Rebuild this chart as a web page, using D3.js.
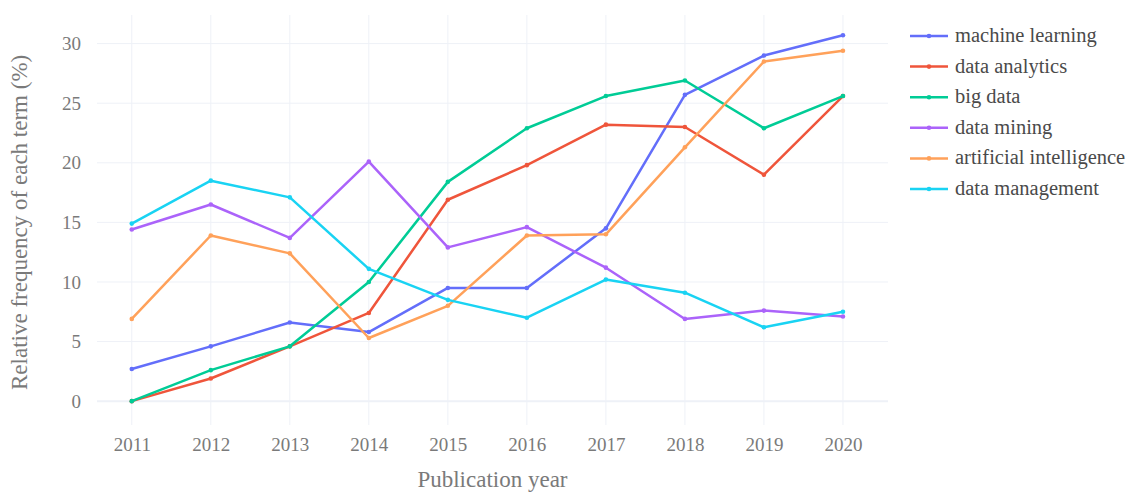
<!DOCTYPE html>
<html>
<head>
<meta charset="utf-8">
<script src="https://cdn.jsdelivr.net/npm/d3@7"></script>
<style>
  body { margin: 0; background: #fff; }
</style>
</head>
<body>
<div id="chart-area"></div>
<script>
const years = [2011, 2012, 2013, 2014, 2015, 2016, 2017, 2018, 2019, 2020];
const terms = ["machine learning", "data analytics", "big data", "data mining", "artificial intelligence", "data management"];
const machineLearning = [2.7, 4.6, 6.6, 5.8, 9.5, 9.5, 14.5, 25.7, 29.0, 30.7];
const dataAnalytics = [0, 1.9, 4.6, 7.4, 16.9, 19.8, 23.2, 23.0, 19.0, 25.6];
const bigData = [0, 2.6, 4.6, 10.0, 18.4, 22.9, 25.6, 26.9, 22.9, 25.6];
const dataMining = [14.4, 16.5, 13.7, 20.1, 12.9, 14.6, 11.2, 6.9, 7.6, 7.1];
const artificialIntelligence = [6.9, 13.9, 12.4, 5.3, 8.0, 13.9, 14.0, 21.3, 28.5, 29.4];
const dataManagement = [14.9, 18.5, 17.1, 11.1, 8.5, 7.0, 10.2, 9.1, 6.2, 7.5];
const yTicks = [0, 5, 10, 15, 20, 25, 30];
const colors = ["#636efa", "#EF553B", "#00cc96", "#ab63fa", "#FFA15A", "#19d3f3"];

const seriesValues = [machineLearning, dataAnalytics, bigData, dataMining, artificialIntelligence, dataManagement];
const series = terms.map((t, i) => ({
  term: t,
  color: colors[i],
  points: years.map((yr, j) => ({ year: yr, value: seriesValues[i][j] }))
}));

const W = 1134, H = 496;
const margin = { top: 15, right: 246, bottom: 71, left: 97 };
const width = W - margin.left - margin.right;
const height = H - margin.top - margin.bottom;
const serif = "'Liberation Serif'";

const svg = d3.select("#chart-area")
  .append("svg")
  .attr("width", W)
  .attr("height", H);

const g = svg.append("g")
  .attr("transform", `translate(${margin.left}, ${margin.top})`);

const x = d3.scaleLinear()
  .domain([2010.56, 2020.57])
  .range([0, width]);

const y = d3.scaleLinear()
  .domain([-2.0, 32.4])
  .range([height, 0]);

// grid
g.append("g")
  .selectAll("line")
  .data(years)
  .join("line")
  .attr("x1", d => x(d)).attr("x2", d => x(d))
  .attr("y1", 0).attr("y2", height)
  .attr("stroke", "#eef1f7").attr("stroke-width", 1);

g.append("g")
  .selectAll("line")
  .data(yTicks)
  .join("line")
  .attr("x1", 0).attr("x2", width)
  .attr("y1", d => y(d)).attr("y2", d => y(d))
  .attr("stroke", "#eef1f7")
  .attr("stroke-width", d => d === 0 ? 2 : 1);

// axes (labels only)
const xAxis = g.append("g")
  .attr("transform", `translate(0, ${height})`)
  .call(d3.axisBottom(x).tickValues(years).tickFormat(d3.format("d")).tickSize(0).tickPadding(13));
xAxis.select(".domain").remove();
xAxis.selectAll("text")
  .style("font-family", serif)
  .style("font-size", "19px")
  .attr("fill", "#7a7a7a");

const yAxis = g.append("g")
  .call(d3.axisLeft(y).tickValues(yTicks).tickSize(0).tickPadding(16));
yAxis.select(".domain").remove();
yAxis.selectAll("text")
  .style("font-family", serif)
  .style("font-size", "19px")
  .attr("fill", "#7a7a7a");

g.append("text")
  .attr("x", width / 2)
  .attr("y", height + 62)
  .attr("text-anchor", "middle")
  .style("font-family", serif)
  .style("font-size", "23px")
  .attr("fill", "#7a7a7a")
  .text("Publication year");

g.append("text")
  .attr("transform", "rotate(-90)")
  .attr("x", -(y(15)))
  .attr("y", -70)
  .attr("text-anchor", "middle")
  .style("font-family", serif)
  .style("font-size", "23px")
  .attr("fill", "#7a7a7a")
  .text("Relative frequency of each term (%)");

// lines
const line = d3.line()
  .x(d => x(d.year))
  .y(d => y(d.value));

const lines = g.append("g");
series.forEach(s => {
  lines.append("path")
    .datum(s.points)
    .attr("fill", "none")
    .attr("stroke", s.color)
    .attr("stroke-width", 2.5)
    .attr("stroke-linejoin", "round")
    .attr("d", line);
  lines.append("g")
    .selectAll("circle")
    .data(s.points)
    .join("circle")
    .attr("cx", d => x(d.year))
    .attr("cy", d => y(d.value))
    .attr("r", 2.3)
    .attr("fill", s.color);
});

// legend
const legend = svg.append("g")
  .attr("transform", "translate(910, 36)");

series.forEach((s, i) => {
  const row = legend.append("g")
    .attr("transform", `translate(0, ${i * 30.6})`);
  row.append("line")
    .attr("x1", 0).attr("x2", 38)
    .attr("stroke", s.color).attr("stroke-width", 2.5);
  row.append("circle")
    .attr("cx", 19).attr("r", 2.3).attr("fill", s.color);
  row.append("text")
    .attr("x", 45)
    .attr("y", 6)
    .style("font-family", serif)
    .style("font-size", "20.5px")
    .attr("fill", "#4a4a4a")
    .text(s.term);
});
</script>
</body>
</html>
